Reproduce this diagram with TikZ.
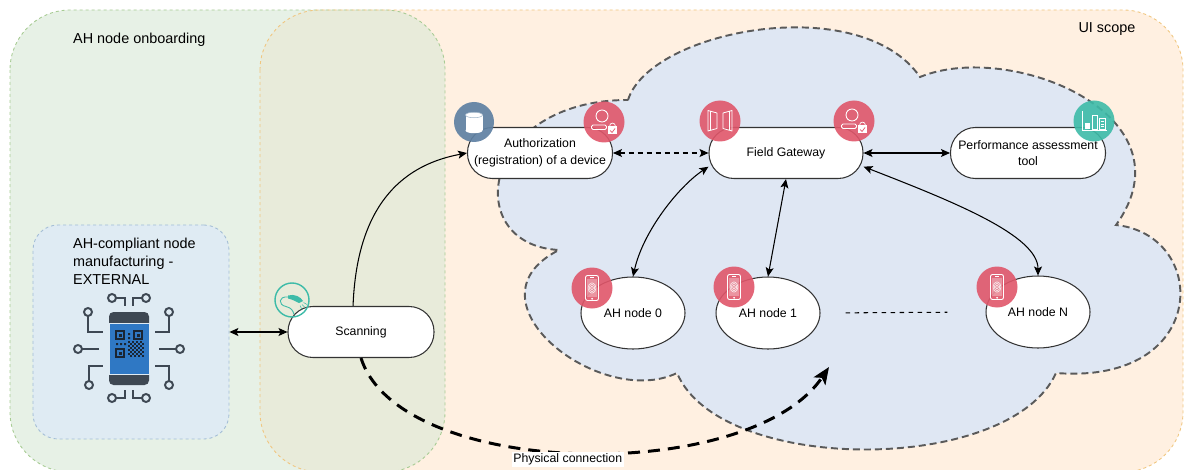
\documentclass[tikz,border=0pt]{standalone}
\usepackage{fontspec}
\setmainfont{Liberation Sans}
\usetikzlibrary{arrows.meta,shapes.geometric}

\definecolor{grnfill}{HTML}{E7F1E6}
\definecolor{grnline}{HTML}{A7CB93}
\definecolor{orfill}{HTML}{FFF0E1}
\definecolor{orline}{HTML}{F0C67F}
\definecolor{olivefill}{HTML}{E8EBDA}
\definecolor{cloudfill}{HTML}{DFE7F3}
\definecolor{cloudline}{HTML}{5A5A5A}
\definecolor{extfill}{HTML}{DFEBF3}
\definecolor{extline}{HTML}{A3BDD6}
\definecolor{boxline}{HTML}{333333}
\definecolor{iconred}{HTML}{E0566A}
\definecolor{iconteal}{HTML}{3DBBA8}
\definecolor{iconslate}{HTML}{5F81A3}
\definecolor{chipdark}{HTML}{3E4853}
\definecolor{chipblue}{HTML}{2F78C4}
\definecolor{qrdark}{HTML}{1A2533}

\newcommand{\boxfont}{\fontsize{7}{9.4}\selectfont}
\newcommand{\lblfont}{\fontsize{8.2}{10.2}\selectfont}

\tikzset{pill/.style={draw=boxline, fill=white, line width=0.6pt, rounded corners=5mm,
          minimum height=10.2mm, inner sep=0pt, align=center, font=\boxfont},
        ahnode/.style={ellipse, draw=boxline, fill=white, line width=0.6pt,
          minimum width=20.8mm, minimum height=14.4mm, inner sep=0pt, font=\boxfont},
        extbox/.style={draw=extline, fill=extfill, line width=0.5pt,
          dash pattern=on 0.6mm off 0.6mm, rounded corners=5mm},
        link/.style={line width=0.6pt,
          {Stealth[length=1.8mm,width=1.6mm,inset=0.4mm]}-{Stealth[length=1.8mm,width=1.6mm,inset=0.4mm]}},
        onelink/.style={line width=0.6pt, -{Stealth[length=1.8mm,width=1.6mm,inset=0.4mm]}},
        physlink/.style={line width=1.7pt, dash pattern=on 2.4mm off 1.6mm,
          -{Stealth[length=3.4mm,width=2.8mm,inset=0.8mm]}},
        region/.style={line width=0.5pt, dash pattern=on 0.6mm off 0.6mm, rounded corners=12mm},
        trace/.style={draw=chipdark, line width=1.4pt},
        pad/.style={draw=chipdark, fill=extfill, line width=1.1pt},
        pics/dbicon/.style={code={
          \fill[iconslate, opacity=.92] (0,0) circle (4mm);
          \fill[white] (-1.7mm,-1.7mm) rectangle (1.7mm,1.4mm);
          \fill[white] (0,-1.7mm) ellipse (1.7mm and 0.55mm);
          \fill[white] (0,1.4mm) ellipse (1.7mm and 0.55mm);
          \draw[iconslate!60, line width=0.3pt] (0,1.4mm) ellipse (1.7mm and 0.55mm);}},
        pics/userlock/.style={code={
          \fill[iconred, opacity=.9] (0,0) circle (4.1mm);
          \draw[white, line width=0.5pt] (-0.4mm,1.2mm) circle (1.2mm);
          \draw[white, line width=0.5pt, rounded corners=0.3mm] (-2.5mm,-1.5mm) rectangle (0.5mm,-0.6mm);
          \draw[white, line width=0.4pt] (1.1mm,-0.9mm) .. controls (1.1mm,0mm) and (2.3mm,0mm) .. (2.3mm,-0.9mm);
          \fill[white] (0.8mm,-2.5mm) rectangle (2.6mm,-0.9mm);
          \draw[iconred, line width=0.4pt] (1.2mm,-1.7mm) -- (1.6mm,-2.1mm) -- (2.2mm,-1.3mm);}},
        pics/gateicon/.style={code={
          \fill[iconred, opacity=.9] (0,0) circle (4.1mm);
          \draw[white, line width=0.45pt, line join=round]
            (-2.4mm,-2.0mm) -- (-2.4mm,2.1mm) -- (-0.6mm,1.6mm) -- (-0.6mm,-1.5mm) -- cycle
            (2.4mm,-2.0mm) -- (2.4mm,2.1mm) -- (0.6mm,1.6mm) -- (0.6mm,-1.5mm) -- cycle;
          \draw[white, line width=0.3pt] (-1.9mm,-1.8mm) -- (-1.9mm,1.9mm)
            (1.9mm,-1.8mm) -- (1.9mm,1.9mm);}},
        pics/charticon/.style={code={
          \fill[iconteal, opacity=.9] (0,0) circle (4.1mm);
          \draw[white, line width=0.4pt] (-2.4mm,2.0mm) -- (-2.4mm,-1.9mm) -- (2.6mm,-1.9mm);
          \fill[white] (-1.9mm,-1.6mm) rectangle (-0.8mm,-0.5mm);
          \draw[white, line width=0.4pt] (-0.4mm,-1.6mm) rectangle (0.7mm,1.2mm);
          \draw[white, line width=0.4pt] (1.1mm,-1.6mm) rectangle (2.2mm,0.5mm);
          \foreach \yy in {-1.1,-0.6,-0.1}
            \draw[white, line width=0.3pt] (1.3mm,\yy mm) -- (2.0mm,\yy mm);}},
        pics/phoneicon/.style={code={
          \fill[iconred, opacity=.9] (0,0) circle (4.1mm);
          \draw[white, line width=0.5pt, rounded corners=0.4mm] (-1.3mm,-2.5mm) rectangle (1.3mm,2.5mm);
          \fill[white, opacity=.3] (-1.0mm,-1.8mm) rectangle (1.0mm,1.8mm);
          \foreach \r in {0.3,0.55,0.8}
            \draw[white, line width=0.25pt] (0,0) ellipse (\r mm and 1.3*\r mm);
          \draw[white, line width=0.4pt] (-0.4mm,2.15mm) -- (0.4mm,2.15mm);
          \fill[white] (0,-2.15mm) circle (0.2mm);}},
        pics/scanicon/.style={code={
          \draw[iconteal, line width=0.8pt] (0,0) circle (3.4mm);
          \fill[iconteal] (-0.8mm,0.9mm) .. controls (0.5mm,1.3mm) and (1.8mm,0.6mm) .. (2.2mm,-0.2mm)
            -- (1.4mm,-0.6mm) .. controls (0.6mm,-0.2mm) and (-0.2mm,0.2mm) .. (-0.8mm,0.3mm) -- cycle;
          \draw[iconteal, line width=0.5pt] (-0.8mm,0.6mm) .. controls (-2.8mm,0.8mm) and (-2.8mm,-1mm) ..
            (-1.2mm,-1.3mm) .. controls (0mm,-1.6mm) and (0.2mm,-2.2mm) .. (0.4mm,-2.9mm);
          \draw[iconteal, line width=0.3pt] (2.0mm,-0.9mm) -- (2.6mm,-1.5mm)
            (1.6mm,-1.1mm) -- (2.0mm,-1.9mm) (2.3mm,-0.5mm) -- (3.0mm,-0.9mm);}}}

\begin{document}
\begin{tikzpicture}[x=0.2mm, y=-0.2mm]
        \useasboundingbox (0,0) rectangle (1184,470);

        % onboarding and UI scope areas
        \fill[grnfill, rounded corners=12mm] (10,10) rectangle (445,472);
        \fill[orfill, rounded corners=12mm] (260,10) rectangle (1183,472);
        \begin{scope}
          \clip[rounded corners=12mm] (10,10) rectangle (445,472);
          \fill[olivefill, rounded corners=12mm] (260,10) rectangle (1183,472);
        \end{scope}
        \draw[region, draw=grnline] (10,10) rectangle (445,472);
        \draw[region, draw=orline] (260,10) rectangle (1183,472);
        \node[font=\lblfont, anchor=west] (onbLbl) at (67,40) {AH node onboarding};
        \node[font=\lblfont] (uiLbl) at (1107,29) {UI scope};

        % cloud
        \filldraw[fill=cloudfill, draw=cloudline, line width=1.1pt, dash pattern=on 1.4mm off 0.8mm]
          (628,100) .. controls (650,30) and (860,-10) .. (920,77)
          .. controls (1010,40) and (1195,115) .. (1116,225)
          .. controls (1210,235) and (1210,385) .. (1056,373)
          .. controls (1010,475) and (720,475) .. (677,373)
          .. controls (600,410) and (460,300) .. (559,250)
          .. controls (460,245) and (480,100) .. (628,100) -- cycle;

        % manufacturing box with chip
        \node[extbox, minimum width=39.2mm, minimum height=42.8mm] (ext) at (131,332) {};
        \node[font=\fontsize{8.2}{10.2}\selectfont, anchor=west, align=left] (extLbl) at (67,261)
          {AH-compliant node\\manufacturing -\\EXTERNAL};
        \draw[trace] (82,349) -- (99,349)  (159,349) -- (176,349)
          (88,316) -- (88,332) -- (103,332)  (169,316) -- (169,332) -- (155,332)
          (89,381) -- (89,366) -- (103,366)  (169,381) -- (169,366) -- (155,366)
          (116,298) -- (125,298) -- (125,306)  (142,298) -- (133,298) -- (133,306)
          (116,398) -- (125,398) -- (125,390)  (142,398) -- (133,398) -- (133,390);
        \foreach \px/\py in {78/349, 180/349, 88/312, 169/312, 89/385, 169/385,
                             112/298, 146/298, 112/398, 146/398}
          \draw[pad] (\px,\py) circle (0.8mm);
        \fill[chipdark, rounded corners=0.9mm] (109,312) rectangle (149,385);
        \filldraw[fill=chipblue, draw=extfill, line width=0.5pt] (109,323) rectangle (149,374);
        \foreach \qx/\qy in {116/331, 134/331, 116/349} {
          \draw[qrdark, line width=1.1pt] (\qx,\qy) rectangle ++(8,8);
          \fill[qrdark] (\qx+2.5,\qy+2.5) rectangle ++(3,3);
        }
        \fill[qrdark] (128,333) rectangle ++(2,2) (128,337) rectangle ++(2,2)
          (116,343) rectangle ++(2,2) (120,343) rectangle ++(2,2) (124,343) rectangle ++(2,2);
        \foreach \i in {0,...,7}
          \foreach \j in {0,...,7} {
            \pgfmathtruncatemacro\cellodd{mod(\i+\j,2)}
            \ifnum\cellodd=0 \fill[qrdark] (128+2*\i,341+2*\j) rectangle ++(2,2); \fi
          }

        % nodes
        \node[pill, minimum width=29.2mm] (scan) at (361,332) {Scanning};
        \node[pill, minimum width=29mm] (auth) at (540,153) {Authorization\\(registration) of a device};
        \node[pill, minimum width=30.8mm] (gw) at (786,153) {Field Gateway};
        \node[pill, minimum width=31mm] (perf) at (1028,153) {Performance assessment\\tool};
        \node[ahnode] (n0) at (633,313) {AH node 0};
        \node[ahnode] (n1) at (768,313) {AH node 1};
        \node[ahnode] (nN) at (1038,312) {AH node N};
        \coordinate (physEnd) at (829,367);

        % connectors
        \draw[link] (ext.east) -- (scan.west);
        \draw[onelink] (scan.107) .. controls +(4,-107) and +(-59,11) .. (auth.west);
        \draw[link, dash pattern=on 1mm off 0.8mm] (auth.east) -- (gw.west);
        \draw[link] (gw.east) -- (perf.west);
        \draw[link] (gw.190) .. controls +(-30,20) and +(10,-45) .. (n0.north);
        \draw[link] (gw.south) -- (n1.north);
        \draw[link] (gw.-10) .. controls +(90,35) and +(0,-40) .. (nN.north);
        \draw[line width=0.6pt, dash pattern=on 0.9mm off 0.9mm, shorten <=5mm, shorten >=7.6mm]
          (n1.east) -- (nN.west);
        \draw[physlink] (scan.south) .. controls (400,480) and (750,485) .. (physEnd)
          node[pos=0.48, yshift=-1.5mm, fill=white, inner sep=1pt, font=\boxfont] (physLbl) {Physical connection};

        % icons
        \pic at (292,300) {scanicon};
        \pic at (474,122) {dbicon};
        \pic at (604,122) {userlock};
        \pic at (720,121) {gateicon};
        \pic at (854,121) {userlock};
        \pic at (1094,121) {charticon};
        \pic at (592,288) {phoneicon};
        \pic at (734,287) {phoneicon};
        \pic at (997,287) {phoneicon};
      \end{tikzpicture}
\end{document}
